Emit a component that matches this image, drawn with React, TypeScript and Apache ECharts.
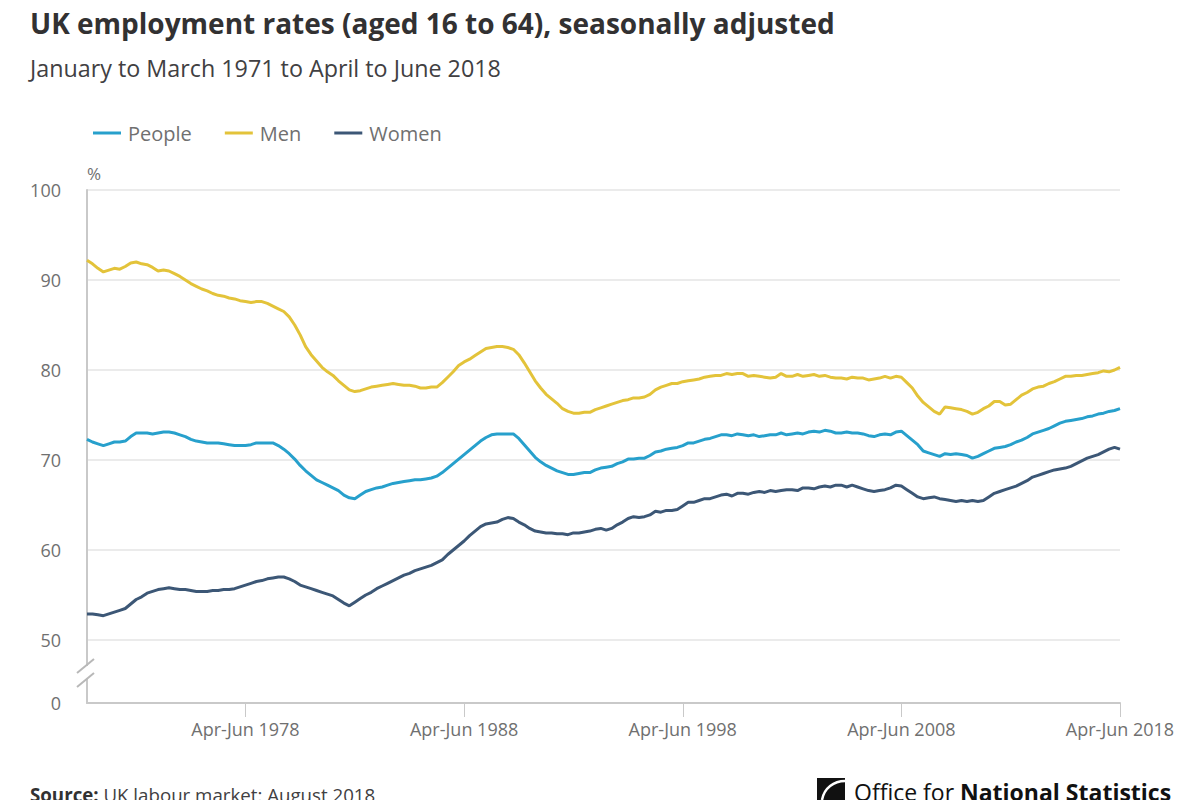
import React, { useEffect, useRef } from "react";
import * as echarts from "echarts";

const START_YEAR = 1971;
const QUARTER_NAMES = ["Jan-Mar", "Apr-Jun", "Jul-Sep", "Oct-Dec"];
const N_POINTS = 190; // Jan-Mar 1971 .. Apr-Jun 2018

const categories: string[] = [];
for (let i = 0; i < N_POINTS; i++) {
  categories.push(`${QUARTER_NAMES[i % 4]} ${START_YEAR + Math.floor(i / 4)}`);
}

const LABELLED = ["Apr-Jun 1978", "Apr-Jun 1988", "Apr-Jun 1998", "Apr-Jun 2008", "Apr-Jun 2018"];

const people = [
  72.3, 72.0, 71.8, 71.6, 71.8, 72.0, 72.0, 72.1, 72.6, 73.0,
  73.0, 73.0, 72.9, 73.0, 73.1, 73.1, 73.0, 72.8, 72.6, 72.3,
  72.1, 72.0, 71.9, 71.9, 71.9, 71.8, 71.7, 71.6, 71.6, 71.6,
  71.7, 71.9, 71.9, 71.9, 71.9, 71.6, 71.2, 70.7, 70.1, 69.4,
  68.8, 68.3, 67.8, 67.5, 67.2, 66.9, 66.6, 66.1, 65.8, 65.7,
  66.1, 66.5, 66.7, 66.9, 67.0, 67.2, 67.4, 67.5, 67.6, 67.7,
  67.8, 67.8, 67.9, 68.0, 68.2, 68.6, 69.1, 69.6, 70.1, 70.6,
  71.1, 71.6, 72.1, 72.5, 72.8, 72.9, 72.9, 72.9, 72.9, 72.4,
  71.7, 71.0, 70.3, 69.8, 69.4, 69.1, 68.8, 68.6, 68.4, 68.4,
  68.5, 68.6, 68.6, 68.9, 69.1, 69.2, 69.3, 69.6, 69.8, 70.1,
  70.1, 70.2, 70.2, 70.5, 70.9, 71.0, 71.2, 71.3, 71.4, 71.6,
  71.9, 71.9, 72.1, 72.3, 72.4, 72.6, 72.8, 72.8, 72.7, 72.9,
  72.8, 72.7, 72.8, 72.6, 72.7, 72.8, 72.8, 73.0, 72.8, 72.9,
  73.0, 72.9, 73.1, 73.2, 73.1, 73.3, 73.2, 73.0, 73.0, 73.1,
  73.0, 73.0, 72.9, 72.7, 72.6, 72.8, 72.9, 72.8, 73.1, 73.2,
  72.7, 72.2, 71.7, 71.0, 70.8, 70.6, 70.4, 70.7, 70.6, 70.7,
  70.6, 70.5, 70.2, 70.4, 70.7, 71.0, 71.3, 71.4, 71.5, 71.7,
  72.0, 72.2, 72.5, 72.9, 73.1, 73.3, 73.5, 73.8, 74.1, 74.3,
  74.4, 74.5, 74.6, 74.8, 74.9, 75.1, 75.2, 75.4, 75.5, 75.7,
];

const men = [
  92.2, 91.8, 91.3, 90.9, 91.1, 91.3, 91.2, 91.5, 91.9, 92.0,
  91.8, 91.7, 91.4, 91.0, 91.1, 91.0, 90.7, 90.4, 90.0, 89.6,
  89.3, 89.0, 88.8, 88.5, 88.3, 88.2, 88.0, 87.9, 87.7, 87.6,
  87.5, 87.6, 87.6, 87.4, 87.1, 86.8, 86.5, 85.9, 85.0, 83.9,
  82.6, 81.7, 81.0, 80.3, 79.8, 79.4, 78.8, 78.3, 77.8, 77.6,
  77.7, 77.9, 78.1, 78.2, 78.3, 78.4, 78.5, 78.4, 78.3, 78.3,
  78.2, 78.0, 78.0, 78.1, 78.1, 78.6, 79.2, 79.8, 80.5, 80.9,
  81.2, 81.6, 82.0, 82.4, 82.5, 82.6, 82.6, 82.5, 82.3, 81.7,
  80.8, 79.8, 78.8, 78.0, 77.3, 76.8, 76.3, 75.7, 75.4, 75.2,
  75.2, 75.3, 75.3, 75.6, 75.8, 76.0, 76.2, 76.4, 76.6, 76.7,
  76.9, 76.9, 77.0, 77.3, 77.8, 78.1, 78.3, 78.5, 78.5, 78.7,
  78.8, 78.9, 79.0, 79.2, 79.3, 79.4, 79.4, 79.6, 79.5, 79.6,
  79.6, 79.3, 79.4, 79.3, 79.2, 79.1, 79.2, 79.6, 79.3, 79.3,
  79.5, 79.3, 79.4, 79.5, 79.3, 79.4, 79.2, 79.1, 79.1, 79.0,
  79.2, 79.1, 79.1, 78.9, 79.0, 79.1, 79.3, 79.1, 79.3, 79.2,
  78.6, 78.0, 77.1, 76.4, 75.9, 75.4, 75.1, 75.9, 75.8, 75.7,
  75.6, 75.4, 75.1, 75.3, 75.7, 76.0, 76.5, 76.5, 76.1, 76.2,
  76.7, 77.2, 77.5, 77.9, 78.1, 78.2, 78.5, 78.7, 79.0, 79.3,
  79.3, 79.4, 79.4, 79.5, 79.6, 79.7, 79.9, 79.8, 80.0, 80.3,
];

const women = [
  52.9, 52.9, 52.8, 52.7, 52.9, 53.1, 53.3, 53.5, 54.0, 54.5,
  54.8, 55.2, 55.4, 55.6, 55.7, 55.8, 55.7, 55.6, 55.6, 55.5,
  55.4, 55.4, 55.4, 55.5, 55.5, 55.6, 55.6, 55.7, 55.9, 56.1,
  56.3, 56.5, 56.6, 56.8, 56.9, 57.0, 57.0, 56.8, 56.5, 56.1,
  55.9, 55.7, 55.5, 55.3, 55.1, 54.9, 54.5, 54.1, 53.8, 54.2,
  54.6, 55.0, 55.3, 55.7, 56.0, 56.3, 56.6, 56.9, 57.2, 57.4,
  57.7, 57.9, 58.1, 58.3, 58.6, 58.9, 59.5, 60.0, 60.5, 61.0,
  61.6, 62.1, 62.6, 62.9, 63.0, 63.1, 63.4, 63.6, 63.5, 63.1,
  62.8, 62.4, 62.1, 62.0, 61.9, 61.9, 61.8, 61.8, 61.7, 61.9,
  61.9, 62.0, 62.1, 62.3, 62.4, 62.2, 62.4, 62.8, 63.1, 63.5,
  63.7, 63.6, 63.7, 63.9, 64.3, 64.2, 64.4, 64.4, 64.5, 64.9,
  65.3, 65.3, 65.5, 65.7, 65.7, 65.9, 66.1, 66.2, 66.0, 66.3,
  66.3, 66.2, 66.4, 66.5, 66.4, 66.6, 66.5, 66.6, 66.7, 66.7,
  66.6, 66.9, 66.9, 66.8, 67.0, 67.1, 67.0, 67.2, 67.2, 67.0,
  67.2, 67.0, 66.8, 66.6, 66.5, 66.6, 66.7, 66.9, 67.2, 67.1,
  66.7, 66.3, 65.9, 65.7, 65.8, 65.9, 65.7, 65.6, 65.5, 65.4,
  65.5, 65.4, 65.5, 65.4, 65.5, 65.9, 66.3, 66.5, 66.7, 66.9,
  67.1, 67.4, 67.7, 68.1, 68.3, 68.5, 68.7, 68.9, 69.0, 69.1,
  69.3, 69.6, 69.9, 70.2, 70.4, 70.6, 70.9, 71.2, 71.4, 71.2,
];

const Y_TICK_LABELS: Record<number, string> = { 43: "0", 50: "50", 60: "60", 70: "70", 80: "80", 90: "90", 100: "100" };

const FONT = "'Open Sans', 'Noto Sans', sans-serif";
const COLORS = { people: "#27a0cc", men: "#e3c33a", women: "#3c5776" };
const TEXT_GREY = "#707070";
const AXIS_GREY = "#c9c9c9";

export default function App() {
  const ref = useRef<HTMLDivElement>(null);

  useEffect(() => {
    if (!ref.current) return;
    const chart = echarts.init(ref.current, undefined, { renderer: "svg" });
    const showIdx = (idx: number) => LABELLED.includes(categories[idx]);
    chart.setOption({
      animation: false,
      backgroundColor: "#ffffff",
      textStyle: { fontFamily: FONT },
      title: [
        {
          text: "UK employment rates (aged 16 to 64), seasonally adjusted",
          left: 30,
          top: 9,
          padding: 0,
          textStyle: { fontFamily: FONT, fontSize: 28, fontWeight: "bold", color: "#323132" },
        },
        {
          text: "January to March 1971 to April to June 2018",
          left: 30,
          top: 56,
          padding: 0,
          textStyle: { fontFamily: FONT, fontSize: 23.3, fontWeight: "normal", color: "#414042" },
        },
      ],
      legend: {
        left: 88,
        top: 118,
        icon: "rect",
        itemWidth: 28,
        itemHeight: 3,
        itemGap: 33,
        textStyle: { fontFamily: FONT, fontSize: 20, color: TEXT_GREY, padding: [0, 0, 0, 2] },
        data: ["People", "Men", "Women"],
      },
      grid: { left: 87, right: 80, top: 190, bottom: 97, containLabel: false },
      xAxis: {
        type: "category",
        data: categories,
        boundaryGap: false,
        axisLine: { lineStyle: { color: AXIS_GREY, width: 2 } },
        axisTick: { show: true, interval: (i: number) => showIdx(i), length: 14, lineStyle: { color: AXIS_GREY, width: 1 } },
        axisLabel: {
          interval: (i: number) => showIdx(i),
          color: TEXT_GREY,
          fontSize: 18,
          fontFamily: FONT,
          margin: 17,
          showMaxLabel: true,
        },
        splitLine: { show: false },
      },
      yAxis: {
        type: "value",
        min: 43,
        max: 100,
        axisLine: { show: true, lineStyle: { color: AXIS_GREY, width: 2 } },
        axisTick: { show: false },
        axisLabel: {
          color: TEXT_GREY,
          fontSize: 18,
          fontFamily: FONT,
          margin: 26,
          formatter: (v: number) => Y_TICK_LABELS[Math.round(v)] ?? "",
        },
        splitLine: { show: true, lineStyle: { color: "#ebebeb", width: 2 } },
      },
      series: [
        { name: "People", type: "line", data: people, showSymbol: false, lineStyle: { width: 3, color: COLORS.people }, itemStyle: { color: COLORS.people } },
        { name: "Men", type: "line", data: men, showSymbol: false, lineStyle: { width: 3, color: COLORS.men }, itemStyle: { color: COLORS.men } },
        { name: "Women", type: "line", data: women, showSymbol: false, lineStyle: { width: 3, color: COLORS.women }, itemStyle: { color: COLORS.women } },
      ],
      graphic: [
        { type: "text", z: 100, left: 87, top: 165, style: { text: "%", fontFamily: FONT, fontSize: 17, fill: TEXT_GREY } },
        { type: "rect", z: 100, shape: { x: 83, y: 666, width: 8, height: 13 }, style: { fill: "#ffffff" } },
        { type: "line", z: 101, shape: { x1: 77, y1: 673, x2: 94, y2: 659 }, style: { stroke: "#b8b8b8", lineWidth: 2 } },
        { type: "line", z: 101, shape: { x1: 77, y1: 687, x2: 94, y2: 673 }, style: { stroke: "#b8b8b8", lineWidth: 2 } },
        {
          type: "text",
          z: 100,
          left: 30,
          top: 785,
          style: {
            text: "{b|Source:} {r|UK labour market: August 2018}",
            fontFamily: FONT,
            fontSize: 18.7,
            fill: "#414042",
            rich: {
              b: { fontWeight: "bold", fontSize: 18.7, fontFamily: FONT, fill: "#323132" },
              r: { fontWeight: "normal", fontSize: 18.7, fontFamily: FONT, fill: "#414042" },
            },
          },
        },
        { type: "polygon", z: 100, shape: { points: [[817, 778], [845, 778], [845, 800], [817, 800]] }, style: { fill: "#111111" } },
        { type: "bezierCurve", z: 101, shape: { x1: 822, y1: 800, x2: 845, y2: 781, cpx1: 824, cpy1: 788, cpx2: 834, cpy2: 781 }, style: { stroke: "#ffffff", lineWidth: 2.5, fill: null } },
        {
          type: "text",
          z: 100,
          left: 854,
          top: 780,
          style: {
            text: "{a|Office for }{b|National Statistics}",
            fontFamily: FONT,
            fontSize: 23,
            fill: "#111111",
            rich: {
              a: { fontWeight: "normal", fontSize: 23, fontFamily: FONT, fill: "#111111" },
              b: { fontWeight: "bold", fontSize: 23, fontFamily: FONT, fill: "#111111" },
            },
          },
        },
      ],
    });
    return () => chart.dispose();
  }, []);

  return (
    <div
      ref={ref}
      style={{ position: "absolute", left: 0, top: 0, width: 1200, height: 800, background: "#fff" }}
    />
  );
}
